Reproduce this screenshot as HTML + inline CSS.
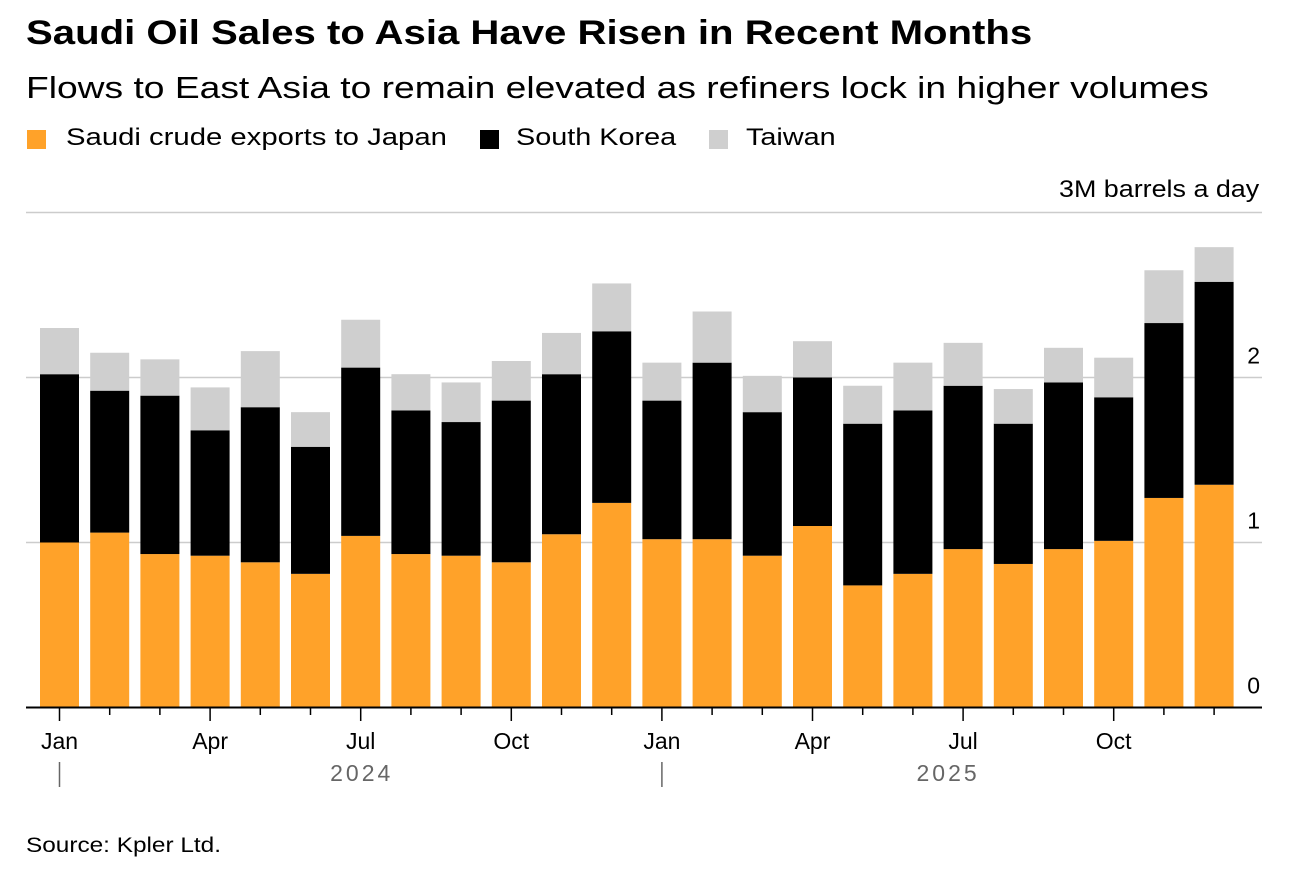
<!DOCTYPE html>
<html><head><meta charset="utf-8"><style>
body{margin:0;background:#fff;font-family:"Liberation Sans",sans-serif;}
#wrap{position:relative;width:1302px;height:874px;overflow:hidden;}
.t{position:absolute;white-space:nowrap;color:#000;transform-origin:0 0;}
.sw{position:absolute;width:19px;height:19px;}
</style></head><body>
<div id="wrap">
<div class="t" style="left:26px;top:14px;font-size:34px;font-weight:bold;transform:scaleX(1.18);">Saudi Oil Sales to Asia Have Risen in Recent Months</div>
<div class="t" style="left:26px;top:70px;font-size:31px;transform:scaleX(1.2);">Flows to East Asia to remain elevated as refiners lock in higher volumes</div>
<div class="sw" style="left:27px;top:130px;background:#ffa229;"></div>
<div class="t" style="left:66px;top:124px;font-size:24px;transform:scaleX(1.22);">Saudi crude exports to Japan</div>
<div class="sw" style="left:480px;top:130px;background:#000;"></div>
<div class="t" style="left:516px;top:124px;font-size:24px;transform:scaleX(1.2);">South Korea</div>
<div class="sw" style="left:709px;top:130px;background:#cfcfcf;"></div>
<div class="t" style="left:746px;top:124px;font-size:24px;transform:scaleX(1.2);">Taiwan</div>
<div class="t" style="left:1059px;top:176px;font-size:24px;transform:scaleX(1.12);">3M barrels a day</div>
<svg id="chart" width="1302" height="874" style="position:absolute;left:0;top:0;"></svg>
<div class="t" style="left:26px;top:834px;font-size:21px;transform:scaleX(1.16);">Source: Kpler Ltd.</div>
</div>
<script>
const months=["Jan","Feb","Mar","Apr","May","Jun","Jul","Aug","Sep","Oct","Nov","Dec","Jan","Feb","Mar","Apr","May","Jun","Jul","Aug","Sep","Oct","Nov","Dec"];
const japan=[1.00,1.06,0.93,0.92,0.88,0.81,1.04,0.93,0.92,0.88,1.05,1.24,1.02,1.02,0.92,1.10,0.74,0.81,0.96,0.87,0.96,1.01,1.27,1.35];
const korea=[1.02,0.86,0.96,0.76,0.94,0.77,1.02,0.87,0.81,0.98,0.97,1.04,0.84,1.07,0.87,0.90,0.98,0.99,0.99,0.85,1.01,0.87,1.06,1.23];
const taiwan=[0.28,0.23,0.22,0.26,0.34,0.21,0.29,0.22,0.24,0.24,0.25,0.29,0.23,0.31,0.22,0.22,0.23,0.29,0.26,0.21,0.21,0.24,0.32,0.21];
const yTicks=[0,1,2,3];
const years=["2024","2025"];
const NS="http://www.w3.org/2000/svg";
const svg=document.getElementById("chart");
const y=v=>707.5-v*165;
const x=i=>59.5+i*50.2;
const bw=39;
const FF="Liberation Sans, sans-serif";
function mk(tag,attrs){const e=document.createElementNS(NS,tag);for(const k in attrs)e.setAttribute(k,attrs[k]);svg.appendChild(e);return e;}
yTicks.forEach(v=>{
  if(v>0){const l=mk("line",{x1:26,x2:1262,y1:y(v),y2:y(v),stroke:"#cccccc","stroke-width":1.5});
  
  }
  if(v<3){const t=mk("text",{x:1260,y:y(v)-14,"text-anchor":"end","font-size":23,"font-family":FF,fill:"#000"});t.textContent=v;
  
  }
});
const series=[[japan,"#ffa229","japan"],[korea,"#000000","south-korea"],[taiwan,"#cfcfcf","taiwan"]];
months.forEach((m,i)=>{
  let base=0;
  series.forEach(([arr,c,n])=>{
    const r=mk("rect",{x:x(i)-bw/2,y:y(base+arr[i]),width:bw,height:y(base)-y(base+arr[i]),fill:c});
    
    
    base+=arr[i];
  });
  const major=i%3===0;
  const tk=mk("line",{x1:x(i),x2:x(i),y1:707,y2:major?721:715,stroke:"#000","stroke-width":1.5});
  
  
  if(major){const t=mk("text",{x:x(i),y:749,"text-anchor":"middle","font-size":23,"font-family":FF,fill:"#000"});t.textContent=m;
  
  }
});
const ax=mk("line",{x1:26,x2:1262,y1:707.5,y2:707.5,stroke:"#000","stroke-width":2});


const yearOffset=[1,-15];
years.forEach((yr,k)=>{
  const sx=x(k*12);
  const d=mk("line",{x1:sx,x2:sx,y1:762,y2:787,stroke:"#666","stroke-width":1.5});
  
  
  const t=mk("text",{x:x(k*12+6)+yearOffset[k],y:781,"text-anchor":"middle","font-size":23,"letter-spacing":"3","font-family":FF,fill:"#666"});t.textContent=yr;
  
  
});
</script>
</body></html>
